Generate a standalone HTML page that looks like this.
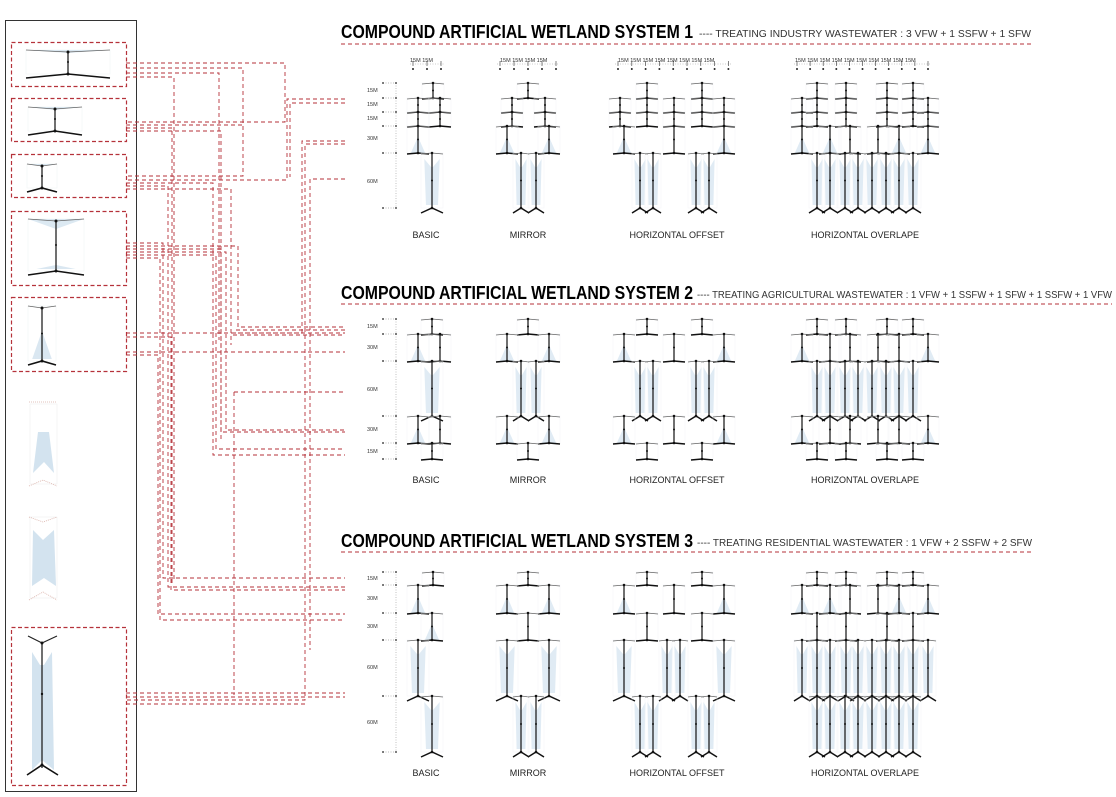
<!DOCTYPE html>
<html><head><meta charset="utf-8">
<style>
html,body{margin:0;padding:0;background:#fff;}
svg{display:block;}
text{font-family:"Liberation Sans",sans-serif;}
</style></head>
<body>
<svg id="s" width="1116" height="797" viewBox="0 0 1116 797" xmlns="http://www.w3.org/2000/svg">
<rect x="0" y="0" width="1116" height="797" fill="#fff"/>
<rect x="5.5" y="20.5" width="131" height="771" fill="none" stroke="#333" stroke-width="1"/>
<g id="conn"></g>
<g id="dia"></g>
<text x="341" y="38" font-size="18" font-weight="bold" textLength="352" lengthAdjust="spacingAndGlyphs">COMPOUND ARTIFICIAL WETLAND SYSTEM 1</text>
<text x="699" y="37" font-size="10" fill="#333" textLength="332" lengthAdjust="spacingAndGlyphs">---- TREATING INDUSTRY WASTEWATER :  3 VFW + 1 SSFW + 1 SFW</text>
<line x1="341" y1="44" x2="1034" y2="44" stroke="#b5323a" stroke-width="1" stroke-dasharray="4 3"/>
<text x="341" y="299" font-size="18" font-weight="bold" textLength="352" lengthAdjust="spacingAndGlyphs">COMPOUND ARTIFICIAL WETLAND SYSTEM 2</text>
<text x="697" y="298" font-size="10" fill="#333" textLength="415" lengthAdjust="spacingAndGlyphs">---- TREATING AGRICULTURAL WASTEWATER :  1 VFW + 1 SSFW + 1 SFW + 1 SSFW + 1 VFW</text>
<line x1="341" y1="304" x2="1112" y2="304" stroke="#b5323a" stroke-width="1" stroke-dasharray="4 3"/>
<text x="341" y="547" font-size="18" font-weight="bold" textLength="352" lengthAdjust="spacingAndGlyphs">COMPOUND ARTIFICIAL WETLAND SYSTEM 3</text>
<text x="697" y="546" font-size="10" fill="#333" textLength="335" lengthAdjust="spacingAndGlyphs">---- TREATING RESIDENTIAL WASTEWATER :  1 VFW + 2 SSFW + 2 SFW</text>
<line x1="341" y1="552" x2="1032" y2="552" stroke="#b5323a" stroke-width="1" stroke-dasharray="4 3"/>
<g font-size="9" fill="#222" text-anchor="middle">
<text x="426" y="238">BASIC</text><text x="528" y="238">MIRROR</text><text x="677" y="238">HORIZONTAL OFFSET</text><text x="865" y="238">HORIZONTAL OVERLAPE</text>
<text x="426" y="483">BASIC</text><text x="528" y="483">MIRROR</text><text x="677" y="483">HORIZONTAL OFFSET</text><text x="865" y="483">HORIZONTAL OVERLAPE</text>
<text x="426" y="776">BASIC</text><text x="528" y="776">MIRROR</text><text x="677" y="776">HORIZONTAL OFFSET</text><text x="865" y="776">HORIZONTAL OVERLAPE</text>
</g>
<g font-size="5.5" fill="#333">
<text x="367" y="92">15M</text><text x="367" y="106">15M</text><text x="367" y="120">15M</text><text x="367" y="140">30M</text><text x="367" y="183">60M</text>
<text x="367" y="328">15M</text><text x="367" y="349">30M</text><text x="367" y="391">60M</text><text x="367" y="431">30M</text><text x="367" y="453">15M</text>
<text x="367" y="580">15M</text><text x="367" y="600">30M</text><text x="367" y="628">30M</text><text x="367" y="669">60M</text><text x="367" y="724">60M</text>
<text x="410" y="62">15M 15M</text>
<text x="500" y="62">15M 15M 15M 15M</text>
<text x="618" y="62">15M 15M 15M 15M 15M 15M 15M 15M</text>
<text x="795" y="62">15M 15M 15M 15M 15M 15M 15M 15M 15M 15M</text>
</g>
</svg>
<script>
var NS="http://www.w3.org/2000/svg";
var dia=document.getElementById("dia"),conn=document.getElementById("conn");
function el(p,t,a){var e=document.createElementNS(NS,t);for(var k in a)e.setAttribute(k,a[k]);p.appendChild(e);return e;}
function line(p,x1,y1,x2,y2,c,w,d){var a={x1:x1,y1:y1,x2:x2,y2:y2,stroke:c,"stroke-width":w};if(d)a["stroke-dasharray"]=d;el(p,"line",a);}
function pl(p,pts,c,w,d,f){var a={points:pts.join(" "),stroke:c,"stroke-width":w,fill:f||"none"};if(d)a["stroke-dasharray"]=d;el(p,"polyline",a);}
var BL="#d3e3ef";
function unit(cx,y0,y1,w,sh,p){
 p=p||dia;var h=y1-y0;
 el(p,"rect",{x:cx-w,y:y0,width:2*w,height:h,fill:"none",stroke:"#f0f2f5","stroke-width":0.4});
 if(sh){
  if(h>40){el(p,"polygon",{points:[cx-w*0.7,y0+6,cx-1,y0+14,cx+1,y0+14,cx+w*0.7,y0+6,cx+w*0.55,y1-3,cx-w*0.55,y1-3].join(" "),fill:BL,opacity:0.7});}
  else{el(p,"polygon",{points:[cx,y0+h*0.4,cx+w*0.65,y1,cx-w*0.65,y1].join(" "),fill:BL,opacity:0.7});}
 }
 pl(p,[cx-w,y0+1,cx,y0,cx+w,y0+1],"#666",0.8);
 line(p,cx,y0,cx,y1,"#222",1.3);
 if(h>40) pl(p,[cx-w,y1+5,cx,y1,cx+w,y1+5],"#111",1.5);
 else pl(p,[cx-w,y1+1,cx,y1,cx+w,y1+1],"#111",1.5);
 el(p,"circle",{cx:cx,cy:y0,r:1.3,fill:"#111"});
 el(p,"circle",{cx:cx,cy:y1,r:1.3,fill:"#111"});
 el(p,"circle",{cx:cx,cy:(y0+y1)/2,r:1,fill:"#111"});
}
function diagram(rows,spec){
 for(var r=0;r<rows.length-1;r++){var cols=spec[r];
  for(var i=0;i<cols.length;i++){var c=cols[i];unit(c[0],rows[r],rows[r+1],c[2]||11,c[1]);}}
}
function scale(rows){
 line(dia,396,rows[0],396,rows[rows.length-1],"#999",0.6,"1 1.5");
 rows.forEach(function(y){line(dia,383,y,396,y,"#777",0.6,"1 1.5");el(dia,"circle",{cx:383,cy:y,r:0.9,fill:"#222"});el(dia,"circle",{cx:396,cy:y,r:0.9,fill:"#222"});});
}
function topdim(xs){line(dia,xs[0]-3,64,xs[xs.length-1]+3,64,"#999",0.6,"1 1.5");xs.forEach(function(x){line(dia,x,61,x,66,"#333",0.6);el(dia,"circle",{cx:x,cy:69,r:1,fill:"#222"});});}
function rng(a,n,s){var r=[];for(var i=0;i<n;i++)r.push(a+i*s);return r;}
function C(a,s){return a.map(function(x){return [x,s];});}
var R1=[83,98,112,126,153,208];scale(R1);
topdim(rng(413,3,14));topdim(rng(500,5,14));topdim(rng(618,9,13.8));topdim(rng(797,11,13.1));
diagram(R1,[C([433]),C([418,440]),C([418,440]),C([418],1),C([432],1)]);
diagram(R1,[C([528]),C([512,545]),C([512,545]),C([507,549],1),[[521,1,8],[536,1,8]]]);
diagram(R1,[C([647,702]),C([620,647,674,702,724]),C([620,647,674,702,724]),[[624,1],[674,0],[724,1]],[[640,1,8],[653,1,8],[696,1,8],[709,1,8]]]);
diagram(R1,[C([817,846,887,913]),C([802,817,846,887,913,928]),C([802,817,846,887,913,928]),[[802,1],[830,1],[850,0],[878,0],[899,1],[928,1]],C([817,830,845,858,872,886,899,913],1).map(function(c){c.push(8);return c;})]);
var R2=[319,334,361,416,443,459];scale(R2);
diagram(R2,[C([432]),[[418,1],[440,0]],C([432],1),[[418,1],[440,0]],C([432])]);
diagram(R2,[C([528]),C([507,549],1),[[521,1,8],[536,1,8]],C([507,549],1),C([528])]);
diagram(R2,[C([647,702]),[[624,1],[674,0],[724,1]],[[640,1,8],[653,1,8],[696,1,8],[709,1,8]],[[624,1],[674,0],[724,1]],C([647,702])]);
var ov8=C([817,830,845,858,872,886,899,913],1).map(function(c){c.push(8);return c;});
diagram(R2,[C([817,846,887,913]),[[802,1],[830,0],[850,0],[878,0],[899,0],[928,1]],ov8,[[802,1],[830,0],[850,0],[878,0],[899,0],[928,1]],C([817,846,887,913])]);
var R3=[572,585,613,640,696,752];scale(R3);
diagram(R3,[C([433]),C([418],1),C([432],1),C([418],1),C([432],1)]);
diagram(R3,[C([528]),C([507,549],1),C([528]),C([507,549],1),[[521,1,8],[536,1,8]]]);
diagram(R3,[C([647,702]),[[624,1],[674,0],[724,1]],C([647,702]),[[624,1],[667,1,8],[680,1,8],[724,1]],[[640,1,8],[653,1,8],[696,1,8],[709,1,8]]]);
var ov10=C([802,817,830,846,858,872,886,899,913,928],1).map(function(c){c.push(8);return c;});
var ov8b=C([817,830,845,858,872,886,899,913],1).map(function(c){c.push(8);return c;});
diagram(R3,[C([817,846,887,913]),[[802,1],[830,1],[850,0],[878,0],[899,1],[928,1]],C([817,846,887,913]),ov10,ov8b]);
var RD="#b5323a";
[[11,42,115,44],[11,98,115,43],[11,154,115,43],[11,211,115,74],[11,297,115,74],[11,627,115,158]].forEach(function(b){
 el(dia,"rect",{x:b[0]+0.5,y:b[1]+0.5,width:b[2],height:b[3],fill:"none",stroke:RD,"stroke-width":1.2,"stroke-dasharray":"4 2.5"});});
function icon(cx,w,y0,y1,topTri,botShade){
 el(dia,"rect",{x:cx-w,y:y0,width:2*w,height:y1-y0,fill:"none",stroke:"#eef1f4","stroke-width":0.5});
 if(topTri) el(dia,"polygon",{points:[cx-w,y0,cx+w,y0,cx,y0+topTri].join(" "),fill:BL,opacity:0.8});
 if(botShade) el(dia,"polygon",{points:[cx,y1-botShade,cx+w*0.7,y1-2,cx-w*0.7,y1-2].join(" "),fill:BL,opacity:0.85});
 pl(dia,[cx-w,y0,cx,y0+2,cx+w,y0],"#666",0.8);
 line(dia,cx,y0+2,cx,y1,"#222",1.3);
 pl(dia,[cx-w,y1+4,cx,y1,cx+w,y1+4],"#111",1.6);
 el(dia,"circle",{cx:cx,cy:y0+2,r:1.5,fill:"#111"});el(dia,"circle",{cx:cx,cy:y1,r:1.5,fill:"#111"});el(dia,"circle",{cx:cx,cy:(y0+y1)/2,r:1,fill:"#111"});
}
icon(68,42,50,74,3,0);
icon(55,27,107,131,3,0);
icon(42,15,164,188,2,0);
icon(56,28,219,271,10,6);
icon(42,14,306,361,0,30);
el(dia,"polygon",{points:"30,404 57,404 57,484 30,484",fill:"none",stroke:"#eee","stroke-width":0.6});
el(dia,"polygon",{points:"38,432 49,432 54,473 44,462 33,473",fill:BL});
pl(dia,[29,402,57,402],"#d9b0a8",0.8,"1 1");pl(dia,[29,486,43,480,57,486],"#d9b0a8",0.8,"1 1");
el(dia,"polygon",{points:"30,517 57,517 57,598 30,598",fill:"none",stroke:"#eee","stroke-width":0.6});
el(dia,"polygon",{points:"33,530 43,540 54,530 56,586 44,578 32,586",fill:BL});
pl(dia,[29,517,43,522,57,517],"#d9b0a8",0.8,"1 1");pl(dia,[29,600,43,592,57,600],"#d9b0a8",0.8,"1 1");
el(dia,"polygon",{points:"32,652 40,665 44,665 52,652 54,770 42,760 32,770",fill:BL});
pl(dia,[28,636,42,643,57,636],"#222",1.2);line(dia,42,643,42,768,"#222",1.3);
pl(dia,[27,775,42,765,58,775],"#111",1.6);
el(dia,"circle",{cx:42,cy:643,r:1.5,fill:"#111"});el(dia,"circle",{cx:42,cy:694,r:1.2,fill:"#111"});el(dia,"circle",{cx:42,cy:765,r:1.5,fill:"#111"});
var P=[
[126,63,285,63,285,122,126,122],
[126,68,243,68,243,176,126,176],
[126,73,219,73,219,340],
[126,77,174,77,174,580],
[345,99,287,99,287,180,126,180],
[345,103,290,103,290,177],
[126,125,243,125],
[126,128,172,128,172,584],
[126,131,221,131,221,440],
[345,141,302,141,302,333,233,333],
[345,144,305,144,305,700,126,700],
[345,179,310,179,310,650],
[126,183,213,183,213,455,345,455],
[126,186,168,186,168,587,345,587],
[126,189,231,189,231,345],
[126,243,163,243,163,578,345,578],
[126,246,238,246,238,327,345,327],
[126,249,221,249,221,432,345,432],
[126,252,226,252,226,430,345,430],
[126,255,216,255,216,449,345,449],
[126,258,160,258,160,620,345,620],
[236,330,345,330],
[233,335,345,335],
[126,333,345,333],
[126,337,171,337,171,590,345,590],
[126,352,345,352],
[126,355,158,355,158,614,345,614],
[234,392,345,392],[234,392,234,695],
[126,693,345,693],
[126,697,345,697],
[126,704,308,704]
];
P.forEach(function(p){var pts=[];for(var i=0;i<p.length;i+=2)pts.push(p[i]+","+p[i+1]);pl(conn,pts,RD,0.9,"4 3");});
</script>
</body></html>
